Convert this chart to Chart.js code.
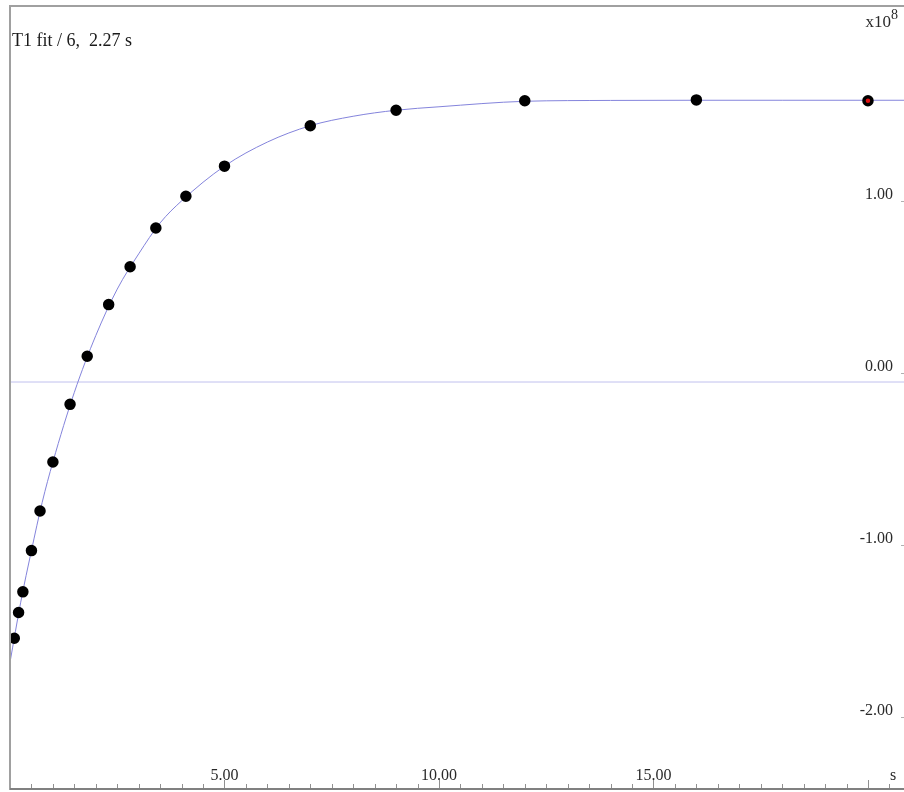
<!DOCTYPE html>
<html>
<head>
<meta charset="utf-8">
<title>T1 fit</title>
<script src="https://cdn.jsdelivr.net/npm/chart.js@4.4.1/dist/chart.umd.min.js"></script>
<style>
  html, body { margin: 0; padding: 0; background: #fff; }
  #t1 { display: block; }
</style>
</head>
<body>
<canvas id="t1" width="904" height="792"></canvas>
<script>
// Tempos de espera (s) e intensidades medidas (x10^8)
const tempos = [0.1, 0.2, 0.3, 0.5, 0.7, 1.0, 1.4, 1.8, 2.3, 2.8, 3.4, 4.1, 5, 7, 9, 12, 16, 20];
const intensidades = [-1.49, -1.34, -1.22, -0.98, -0.75, -0.465, -0.13, 0.15, 0.45, 0.67, 0.895, 1.08, 1.255, 1.49, 1.58, 1.635, 1.64, 1.635];

const ajusteT = [0, 0.25, 0.5, 0.75, 1, 1.5, 2, 2.5, 3, 3.5, 4, 5, 6, 7, 8, 9, 10, 12, 14, 16, 18, 20, 20.84];
const ajusteV = [-1.63, -1.28, -0.98, -0.70, -0.465, -0.06, 0.27, 0.54, 0.745, 0.925, 1.053, 1.255, 1.395, 1.49, 1.545, 1.58, 1.60, 1.632, 1.637, 1.638, 1.638, 1.638, 1.638];

// Eixos
const xRotulos = ["5.00", "10.00", "15.00"];
const xValores = [5, 10, 15];
const yRotulos = ["1.00", "0.00", "-1.00", "-2.00"];
const yValores = [1, 0, -1, -2];
const titulo = "T1 fit / 6,  2.27 s";

const X_MAX = 20.84, Y_MIN = -2.372, Y_MAX = 2.186;

const pontos = tempos.map((t, i) => ({ x: t, y: intensidades[i] }));
const curva = ajusteT.map((t, i) => ({ x: t, y: ajusteV[i] }));
const ultimo = tempos.length - 1;

const FONTE = '"Liberation Serif", "Times New Roman", serif';

// Moldura, marcas e rótulos
const moldura = {
  id: "moldura",
  beforeDraw(chart) {
    const ctx = chart.ctx;
    ctx.save();
    ctx.fillStyle = "#fff";
    ctx.fillRect(0, 0, chart.width, chart.height);
    ctx.restore();
  },
  afterDraw(chart) {
    const { ctx, chartArea: a, scales: { x, y } } = chart;
    ctx.save();

    // borda esquerda e superior
    ctx.strokeStyle = "#a0a0a0";
    ctx.lineWidth = 2;
    ctx.beginPath();
    ctx.moveTo(a.left, a.bottom);
    ctx.lineTo(a.left, a.top);
    ctx.lineTo(chart.width, a.top);
    ctx.stroke();

    // eixo inferior
    ctx.strokeStyle = "#808080";
    ctx.beginPath();
    ctx.moveTo(a.left, a.bottom - 1);
    ctx.lineTo(chart.width, a.bottom - 1);
    ctx.stroke();

    // marcas do eixo x (0.5 s, maiores a cada 5 s)
    ctx.lineWidth = 1;
    ctx.strokeStyle = "#909090";
    for (let k = 1; k * 0.5 < X_MAX; k++) {
      const v = k * 0.5;
      const px = Math.round(x.getPixelForValue(v)) + 0.5;
      const h = (k % 10 === 0) ? 8 : 4;
      ctx.beginPath();
      ctx.moveTo(px, a.bottom - 2);
      ctx.lineTo(px, a.bottom - 2 - h);
      ctx.stroke();
    }

    ctx.fillStyle = "#2a2a2a";
    ctx.font = "16px " + FONTE;
    ctx.textAlign = "center";
    ctx.textBaseline = "middle";
    xValores.forEach((v, i) => {
      ctx.fillText(xRotulos[i], x.getPixelForValue(v), a.bottom - 14);
    });
    ctx.fillText("s", 893, a.bottom - 14);

    // rótulos do eixo y, à direita
    ctx.textAlign = "right";
    yValores.forEach((v, i) => {
      const py = y.getPixelForValue(v);
      ctx.fillText(yRotulos[i], 893, py - 15);
      ctx.fillStyle = "#b0b0b0";
      ctx.fillRect(901, py - 9, 3, 1);
      ctx.fillStyle = "#2a2a2a";
    });

    // fator de escala
    ctx.font = "17px " + FONTE;
    ctx.fillText("x10", 891, 23);
    ctx.font = "14px " + FONTE;
    ctx.textAlign = "left";
    ctx.fillText("8", 891, 15);

    // título
    ctx.fillStyle = "#1a1a1a";
    ctx.font = "18px " + FONTE;
    ctx.fillText(titulo, 12, 41);

    ctx.restore();
  }
};

new Chart(document.getElementById("t1"), {
  type: "scatter",
  data: {
    datasets: [
      {
        label: "medidas",
        data: pontos,
        order: 0,
        pointRadius: 4,
        pointHoverRadius: 4,
        pointBorderWidth: 3.5,
        pointBorderColor: "#000",
        pointBackgroundColor: tempos.map((t, i) => i === ultimo ? "#e01010" : "#000"),
        showLine: false
      },
      {
        label: "ajuste",
        data: curva,
        order: 1,
        showLine: true,
        borderColor: "#8484dc",
        borderWidth: 1,
        pointRadius: 0,
        cubicInterpolationMode: "monotone"
      },
      {
        label: "zero",
        data: [{ x: 0, y: 0 }, { x: X_MAX, y: 0 }],
        order: 2,
        showLine: true,
        borderColor: "#c0c0ee",
        borderWidth: 1,
        pointRadius: 0
      }
    ]
  },
  options: {
    responsive: false,
    animation: false,
    layout: { autoPadding: false, padding: { left: 10, top: 6, right: 0, bottom: 2 } },
    plugins: {
      legend: { display: false },
      tooltip: { enabled: false }
    },
    scales: {
      x: { type: "linear", min: 0, max: X_MAX, display: false },
      y: { type: "linear", min: Y_MIN, max: Y_MAX, display: false }
    }
  },
  plugins: [moldura]
});
</script>
</body>
</html>
